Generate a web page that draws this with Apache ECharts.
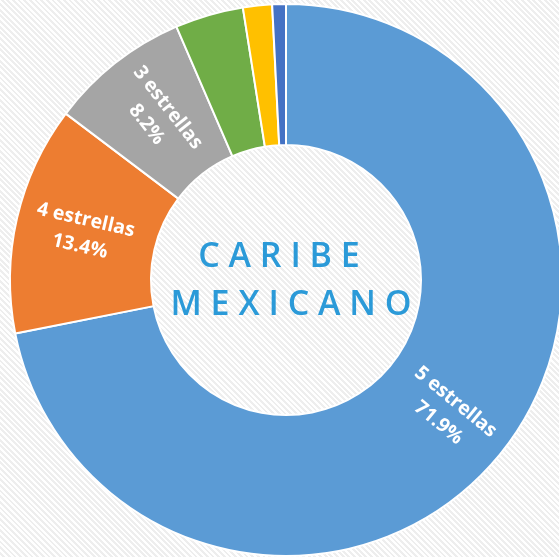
<!DOCTYPE html>
<html><head><meta charset="utf-8">
<script src="https://cdn.jsdelivr.net/npm/echarts@6/dist/echarts.min.js"></script>
<style>
html,body{margin:0;padding:0;}
body{background:repeating-linear-gradient(45deg,#ffffff 0px,#ffffff 2px,#eeeeee 2px,#eeeeee 4px);}
#c{width:559px;height:557px;}
</style></head>
<body><div id="c"></div>
<script>
const categories = ['5 estrellas','4 estrellas','3 estrellas','2 estrellas','1 estrella','Sin categoría'];
const values = [71.9, 13.4, 8.2, 4.0, 1.7, 0.8];
const showLabel = [true, true, true, false, false, false];
const colors = ['#5b9bd5','#ed7d31','#a5a5a5','#70ad47','#ffc000','#4472c4'];
const logoLine1 = 'C A R I B E';
const logoLine2 = 'M E X I C A N O';

const chart = echarts.init(document.getElementById('c'), null, {renderer:'canvas'});
chart.setOption({
  backgroundColor:'transparent',
  animation:false,
  title:[
    {text:logoLine1, left:274, top:235, textAlign:'center', textStyle:{fontFamily:'Open Sans', fontWeight:600, fontSize:34, color:'#2b9ad8'}},
    {text:logoLine2, left:286, top:283, textAlign:'center', textStyle:{fontFamily:'Open Sans', fontWeight:600, fontSize:34, color:'#2b9ad8'}}
  ],
  series:[{
    type:'pie',
    center:[286,280],
    radius:[135,276],
    startAngle:90,
    clockwise:true,
    avoidLabelOverlap:false,
    itemStyle:{borderColor:'#ffffff',borderWidth:2},
    label:{
      position:'inside',
      rotate:'radial',
      color:'#ffffff',
      fontFamily:'Open Sans',
      fontWeight:'bold',
      fontSize:19.5,
      lineHeight:27,
      formatter:p=>p.name+'\n'+p.value.toFixed(1)+'%'
    },
    labelLine:{show:false},
    emphasis:{disabled:true},
    data:categories.map((n,i)=>({name:n,value:values[i],itemStyle:{color:colors[i]},label:{show:showLabel[i]}}))
  }]
});
</script>
</body></html>
